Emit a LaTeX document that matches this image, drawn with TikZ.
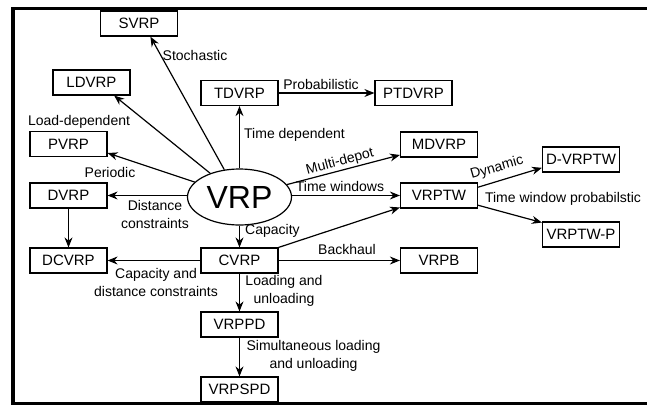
\documentclass[tikz,border=0pt]{standalone}
\usepackage{fontspec}
\setmainfont{Liberation Sans}
\usetikzlibrary{arrows.meta,shapes.geometric}
\begin{document}
\begin{tikzpicture}[x=1pt,y=-1pt,
  box/.style={draw,line width=1.2pt,minimum width=77pt,minimum height=25pt,inner sep=0pt,font=\fontsize{15}{18}\selectfont},
  lbl/.style={font=\fontsize{14}{18}\selectfont,inner sep=0pt,align=center},
  arr/.style={-{Stealth[length=10pt,width=8pt]},line width=1.2pt}]
\useasboundingbox (0,0) rectangle (647,405);
% frame, open on the right
\begin{scope}
  \clip (0,0) rectangle (647,405);
  \draw[line width=3.5pt] (13,8.5) rectangle (660,403.5);
\end{scope}

% problem variants
\node[box] (svrp)   at (139,23.5)   {SVRP};
\node[box] (ldvrp)  at (91.5,82.5)  {LDVRP};
\node[box] (tdvrp)  at (239.5,93)   {TDVRP};
\node[box] (ptdvrp) at (413.5,93)   {PTDVRP};
\node[box] (pvrp)   at (68.5,144)   {PVRP};
\node[box] (mdvrp)  at (439,144.5)  {MDVRP};
\node[box] (dvrp)   at (68.5,195.5) {DVRP};
\node[box] (vrptw)  at (439,195.5)  {VRPTW};
\node[box] (dvrptw) at (581,159.5)  {D-VRPTW};
\node[box] (vrptwp) at (581,234.5)  {VRPTW-P};
\node[box] (dcvrp)  at (68.5,260.5) {DCVRP};
\node[box] (cvrp)   at (239.5,260.5) {CVRP};
\node[box] (vrpb)   at (439,260.5)  {VRPB};
\node[box] (vrppd)  at (239.5,324.5) {VRPPD};
\node[box] (vrpspd) at (239.5,389.5) {VRPSPD};
\node[ellipse,draw,line width=1.2pt,minimum width=104pt,minimum height=56pt,inner sep=0pt,
      font=\fontsize{32}{36}\selectfont] (vrp) at (239.5,197) {VRP};

% connectors
\draw[arr] (vrp) -- (svrp.-49);
\draw[arr] (vrp) -- (ldvrp.-30);
\draw[arr] (vrp) -- (pvrp.-13);
\draw[arr] (vrp.west |- dvrp) -- (dvrp);
\draw[arr] (vrp) -- (tdvrp);
\draw[arr] (tdvrp) -- (ptdvrp);
\draw[arr] (vrp) -- (mdvrp.195);
\draw[arr] (vrp.east |- vrptw) -- (vrptw);
\draw[arr] (vrp) -- (cvrp);
\draw[arr] (cvrp.north east) -- (vrptw.197);
\draw[arr] (vrptw.12) -- (dvrptw.192);
\draw[arr] (vrptw.-14) -- (vrptwp.163);
\draw[arr] (cvrp) -- (vrpb);
\draw[arr] (cvrp) -- (dcvrp);
\draw[arr] (dvrp) -- (dcvrp);
\draw[arr] (cvrp) -- (vrppd);
\draw[arr] (vrppd) -- (vrpspd);

% connector labels
\node[lbl] (lstoch) at (195,55) {Stochastic};
\node[lbl] (lload) at (79,122) {Load-dependent};
\node[lbl,anchor=west] (ltime) at (244,135) {Time dependent};
\node[lbl] (lprob) at (321,84) {Probabilistic};
\node[lbl,rotate=15] (lmulti) at (340,162) {Multi-depot};
\node[lbl] (ltw) at (340,186) {Time windows};
\node[lbl] (lper) at (110,172) {Periodic};
\node[lbl] (ldist) at (155,214) {Distance\\constraints};
\node[lbl,anchor=west] (lcap) at (245,231) {Capacity};
\node[lbl] (lback) at (347,249) {Backhaul};
\node[lbl] (lcapdist) at (156,282) {Capacity and\\distance constraints};
\node[lbl] (lunload) at (284,291) {Loading and\\unloading};
\node[lbl] (lsim) at (313.5,356) {Simultaneous loading\\and unloading};
\node[lbl,rotate=16] (ldyn) at (497,168) {Dynamic};
\node[lbl] (ltwp) at (563,199) {Time window probabilstic};
\end{tikzpicture}
\end{document}
